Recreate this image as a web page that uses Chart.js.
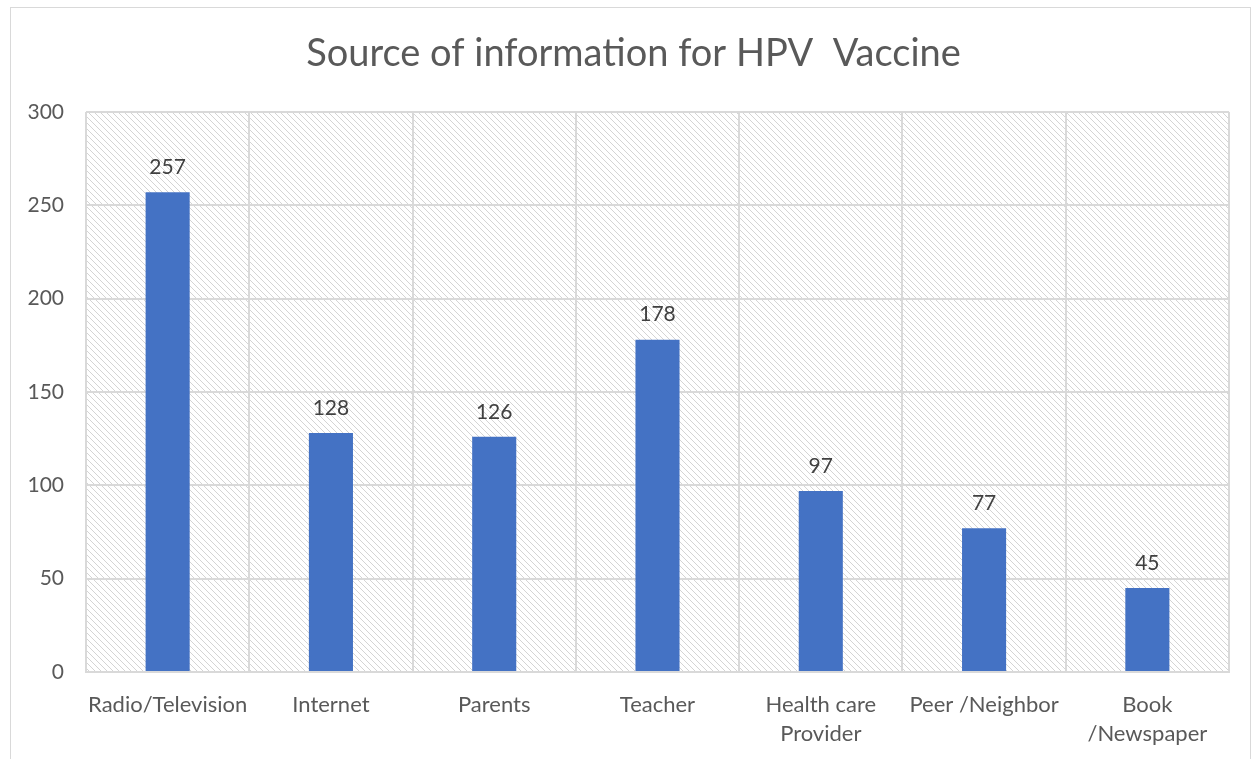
<!DOCTYPE html>
<html>
<head>
<meta charset="utf-8">
<script src="https://cdn.jsdelivr.net/npm/chart.js@4"></script>
<style>
  html, body { margin: 0; padding: 0; background: #fff; }
  #wrap { width: 1259px; height: 759px; position: relative; }
</style>
</head>
<body>
<div id="wrap"><canvas id="myChart" width="1259" height="759"></canvas></div>
<script>
// chart data
const titleText = 'Source of information for HPV  Vaccine';
const categories = ['Radio/Television', 'Internet', 'Parents', 'Teacher', ['Health care', 'Provider'], 'Peer /Neighbor', ['Book', '/Newspaper']];
const counts = [257, 128, 126, 178, 97, 77, 45];
const yTicks = [0, 50, 100, 150, 200, 250, 300];

const FONT = 'Lato, "Open Sans", sans-serif';

// diagonal hatch for the plot background
function makeHatch() {
    const c = document.createElement('canvas');
    c.width = 6; c.height = 6;
    const g = c.getContext('2d');
    g.strokeStyle = '#d4d4d4';
    g.lineWidth = 1;
    g.beginPath();
    g.moveTo(-1, -1); g.lineTo(7, 7);
    g.moveTo(-1, 5); g.lineTo(1, 7);
    g.moveTo(5, -1); g.lineTo(7, 1);
    g.stroke();
    return g.createPattern(c, 'repeat');
}

// frame, hatch and the (slightly off-centre) title
const backdrop = {
    id: 'backdrop',
    beforeDraw(chart) {
        const ctx = chart.ctx;
        const a = chart.chartArea;
        ctx.save();
        ctx.strokeStyle = '#d9d9d9';
        ctx.lineWidth = 1;
        ctx.strokeRect(10.5, 7.5, 1240, 800);
        ctx.fillStyle = makeHatch();
        ctx.fillRect(a.left, a.top, a.right - a.left, a.bottom - a.top);

        ctx.font = '38px ' + FONT;
        ctx.fillStyle = '#595959';
        ctx.textAlign = 'center';
        ctx.textBaseline = 'middle';
        ctx.fillText(titleText, 633.5, 54);
        ctx.restore();
    }
};

const valueLabels = {
    id: 'valueLabels',
    afterDatasetsDraw(chart) {
        const ctx = chart.ctx;
        const meta = chart.getDatasetMeta(0);
        ctx.save();
        ctx.font = '21px ' + FONT;
        ctx.fillStyle = '#404040';
        ctx.textAlign = 'center';
        ctx.textBaseline = 'middle';
        meta.data.forEach((bar, i) => {
            ctx.fillText(String(counts[i]), bar.x, bar.y - 25);
        });
        ctx.restore();
    }
};

const data = {
    labels: categories,
    datasets: [{
        label: 'Count',
        data: counts,
        backgroundColor: '#4472C4',
        borderWidth: 0,
        barPercentage: 0.27,
        categoryPercentage: 1.0
    }]
};

const config = {
    type: 'bar',
    data: data,
    options: {
        responsive: false,
        animation: false,
        layout: { padding: { left: 20, right: 30, top: 112, bottom: 0 } },
        plugins: {
            legend: { display: false },
            tooltip: { enabled: false },
            title: { display: false }
        },
        scales: {
            x: {
                grid: { color: '#d9d9d9', lineWidth: 2, offset: true, drawTicks: false },
                border: { color: '#d9d9d9', width: 2 },
                ticks: {
                    color: '#595959',
                    font: { family: FONT, size: 22, lineHeight: 1.32 },
                    padding: 18,
                    maxRotation: 0,
                    autoSkip: false
                },
                afterFit(scale) { scale.height = 87; }
            },
            y: {
                min: 0,
                max: 300,
                afterBuildTicks(scale) { scale.ticks = yTicks.map(v => ({ value: v })); },
                grid: { color: '#d9d9d9', lineWidth: 2, drawTicks: false },
                border: { display: false },
                ticks: {
                    color: '#595959',
                    font: { family: FONT, size: 21 },
                    padding: 22
                },
                afterFit(scale) { scale.width = 66; }
            }
        }
    },
    plugins: [backdrop, valueLabels]
};

let myChart = new Chart(document.getElementById('myChart'), config);
</script>
</body>
</html>
